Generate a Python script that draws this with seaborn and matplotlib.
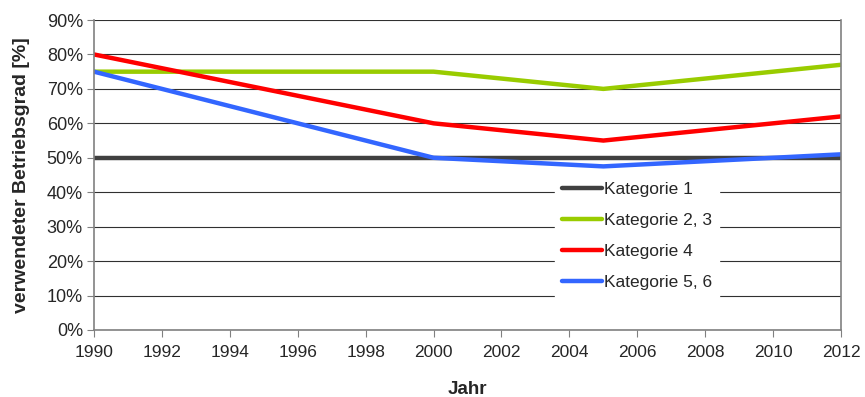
import matplotlib
matplotlib.use("Agg")
import matplotlib.pyplot as plt
import seaborn as sns
import pandas as pd
from matplotlib.ticker import FuncFormatter

# Stützjahre und Betriebsgrade je Kategorie (in %)
jahre = [1990, 2000, 2005, 2012]
kategorie_1 = [50, 50, 50, 50]
kategorie_2_3 = [75, 75, 70, 77]
kategorie_4 = [80, 60, 55, 62]
kategorie_5_6 = [75, 50, 47.5, 51]

namen = ["Kategorie 1", "Kategorie 2, 3", "Kategorie 4", "Kategorie 5, 6"]
farben = ["#404040", "#99CC00", "#FF0000", "#3366FF"]
x_ticks = list(range(1990, 2013, 2))
y_ticks = list(range(0, 91, 10))

frames = []
for name, werte in zip(namen, [kategorie_1, kategorie_2_3, kategorie_4, kategorie_5_6]):
    frames.append(pd.DataFrame({"Jahr": jahre, "Wert": werte, "Kategorie": name}))
df = pd.concat(frames, ignore_index=True)

sns.set_style("white")
plt.rcParams["font.family"] = ["Liberation Sans", "DejaVu Sans"]

fig = plt.figure(figsize=(8.65, 3.97), dpi=100)
ax = fig.add_axes([0.1087, 0.1688, 0.8636, 0.7808])

sns.lineplot(data=df, x="Jahr", y="Wert", hue="Kategorie", hue_order=namen,
             palette=farben, linewidth=3.2, ax=ax, legend=True,
             solid_capstyle="round", solid_joinstyle="round")

ax.set_xlim(1990, 2012)
ax.set_ylim(0, 90)
ax.set_xticks(x_ticks)
ax.set_yticks(y_ticks)
ax.yaxis.set_major_formatter(FuncFormatter(lambda v, p: f"{int(v)}%"))
ax.tick_params(axis="both", length=5, width=0.8, color="#808080",
               direction="out", bottom=True, left=True)
ax.tick_params(axis="x", labelsize=12.5, pad=6)
ax.tick_params(axis="y", labelsize=13, pad=3)

ax.grid(axis="y", color="#303030", linewidth=0.8)
ax.grid(axis="x", visible=False)
for side in ["left", "bottom", "right"]:
    ax.spines[side].set_color("#808080")
    ax.spines[side].set_linewidth(1.2)
ax.spines["top"].set_visible(False)

ax.set_xlabel("Jahr", fontsize=13.5, fontweight="bold")
ax.xaxis.set_label_coords(0.5, -0.165)
ax.set_ylabel("verwendeter Betriebsgrad [%]", fontsize=14, fontweight="bold")
ax.yaxis.set_label_coords(-0.086, 0.5)

leg = ax.legend(loc="upper left", bbox_to_anchor=(0.605, 0.527), frameon=True,
                fontsize=12.5, handlelength=2.3, handletextpad=0.15,
                labelspacing=0.9, borderpad=0.4, fancybox=False)
leg.get_frame().set_edgecolor("white")
leg.get_frame().set_facecolor("white")
leg.get_frame().set_alpha(1)
for line in leg.get_lines():
    line.set_linewidth(3.2)
    line.set_solid_capstyle("round")

fig.savefig("out.png", dpi=100)
